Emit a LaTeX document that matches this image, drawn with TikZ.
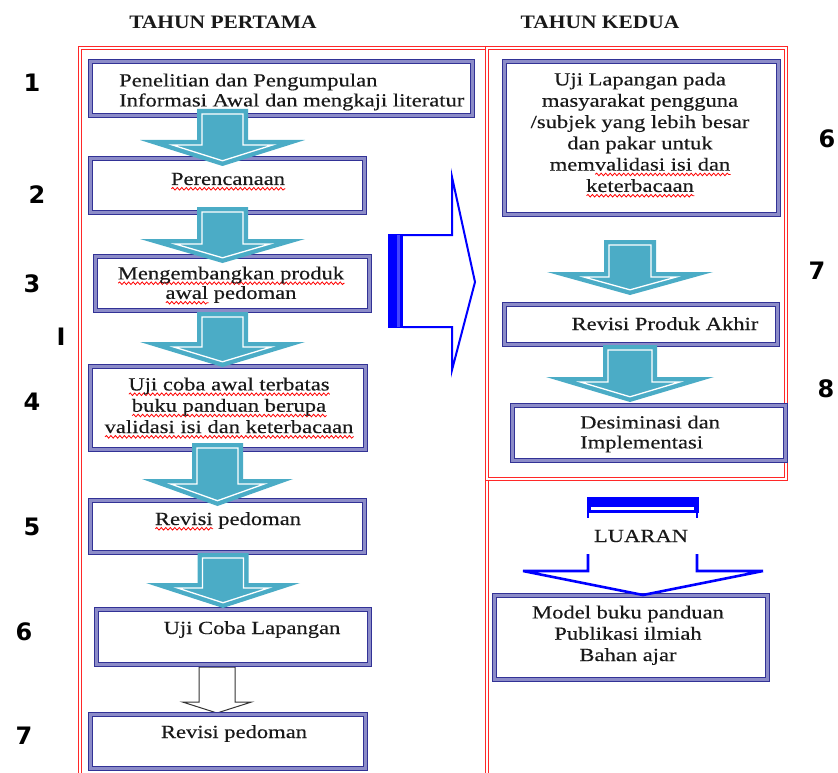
\documentclass[tikz,border=0pt]{standalone}
\usepackage{fontspec}
\setmainfont{Liberation Serif}[FakeStretch=1.22, FakeBold=0.35]
\newfontfamily\headfont{Liberation Serif}[FakeStretch=1.13]
\newfontfamily\numfont{DejaVu Sans}
\usetikzlibrary{decorations.pathmorphing}
\newsavebox\sqbox
\newcommand\sq[1]{\sbox\sqbox{#1}\edef\sqw{\the\wd\sqbox}\rlap{\tikz[baseline=0pt,x=1pt,y=1pt]\draw[red, line width=0.8pt, decorate, decoration={snake, amplitude=1.3pt, segment length=4.5pt}] (0,-3.8) -- (\sqw,-3.8);}\usebox\sqbox}
\definecolor{boxdark}{RGB}{50,50,150}
\definecolor{boxlight}{RGB}{140,140,200}
\definecolor{tealc}{RGB}{75,172,198}
\definecolor{bluec}{RGB}{0,0,255}
\definecolor{bluelt}{RGB}{70,70,255}
\definecolor{redc}{RGB}{255,40,40}
\definecolor{txt}{RGB}{25,25,25}
\newcommand\tarrow[6]{%
  \fill[tealc] (#1-#5,#2) -- (#1+#5,#2) -- (#1+#5,#3) -- (#1+#6,#3) -- (#1,#4) -- (#1-#6,#3) -- (#1-#5,#3) -- cycle;
  \pgfmathsetmacro\Lh{#4-#3}%
  \pgfmathsetmacro\vv{5*sqrt(1+(\Lh/#6)^2)}%
  \pgfmathsetmacro\ih{#6*(\Lh-5-\vv)/\Lh}%
  \draw[white, line width=1.3pt, line join=miter] (#1-#5+5,#2+5) -- (#1+#5-5,#2+5) -- (#1+#5-5,#3+5) -- (#1+\ih,#3+5) -- (#1,#4-\vv) -- (#1-\ih,#3+5) -- (#1-#5+5,#3+5) -- cycle;
}
\begin{document}
\begin{tikzpicture}[x=1pt,y=-1pt,
  frame/.style={draw=redc, double=white, double distance=1.6pt, line width=1.4pt},
  box/.style={draw=boxdark, double=boxlight, double distance=3pt, line width=0.9pt, fill=white, inner sep=0pt},
  body/.style={font=\fontsize{18.5}{21.3}\selectfont, text=txt, inner sep=0pt},
  head/.style={font=\headfont\bfseries\fontsize{19}{19}\selectfont, text=txt, inner sep=0pt},
  num/.style={font=\numfont\bfseries\fontsize{24}{24}\selectfont, text=black, inner sep=0pt},
  bluel/.style={draw=bluec, line width=2.6pt, line join=miter}
]
\useasboundingbox (0,0) rectangle (838,773);
\clip (0,0) rectangle (838,773);

% frames
\draw[frame] (80,48) rectangle (487,790);
\draw[frame] (487,48) rectangle (786,479);

% headings
\node[head, anchor=base] (h1) at (223,29) {TAHUN PERTAMA};
\node[head, anchor=base] (h2) at (600,29) {TAHUN KEDUA};

% white arrow between 6 and 7
\draw[black!80, line width=1pt, fill=white] (199,667) -- (235,667) -- (235,702) -- (251.5,702) -- (217,713) -- (182.5,702) -- (199,702) -- cycle;

% boxes (left)
\node[box, minimum width=382, minimum height=54] (b1) at (281.5,88.5) {};
\node[box, minimum width=274, minimum height=54] (b2) at (227.5,185.5) {};
\node[box, minimum width=274, minimum height=54] (b3) at (232.5,283.5) {};
\node[box, minimum width=275, minimum height=83] (b4) at (228,408) {};
\node[box, minimum width=274, minimum height=52] (b5) at (227.5,526.5) {};
\node[box, minimum width=273, minimum height=55] (b6) at (233,637) {};
\node[box, minimum width=275, minimum height=54] (b7) at (228,741.5) {};
% boxes (right)
\node[box, minimum width=274, minimum height=153] (r1) at (641.5,138) {};
\node[box, minimum width=273, minimum height=40] (r2) at (641,324.5) {};
\node[box, minimum width=273, minimum height=55] (r3) at (649,433) {};
\node[box, minimum width=273, minimum height=84] (r4) at (631,637.5) {};

% teal arrows
\tarrow{222.5}{109}{140}{166}{25.5}{82.5}
\tarrow{222.5}{207}{239}{263}{25.5}{82.5}
\tarrow{222.5}{312}{342}{367}{25.5}{82.5}
\tarrow{217.5}{443}{479}{506}{25.5}{75.5}
\tarrow{223}{553}{583}{608}{25.5}{77}
\tarrow{630}{240}{272}{295}{26}{83}
\tarrow{630}{345}{377}{402}{27}{84}

% big blue right arrow
\draw[bluec, line width=2pt, line join=miter] (403,235) -- (452,235) -- (452,177) -- (475,282) -- (452,370) -- (452,327) -- (403,327);
\fill[bluec] (388,234) rectangle (403,328);
\draw[bluelt, line width=2.5pt] (398.5,235) -- (398.5,327);

% LUARAN arrow
\fill[bluec] (586.5,497) rectangle (698.5,513);
\draw[white, line width=2.5pt] (591,508.5) -- (694,508.5);
\draw[bluel] (588,512) -- (588,518);
\draw[bluel] (697,512) -- (697,518);
\draw[bluel] (588,554) -- (588,571) -- (523,571) -- (643,595) -- (763,571) -- (697,571) -- (697,554);
\node[body, anchor=base] (lu) at (641,542) {LUARAN};

% texts
\node[body, anchor=north west, align=left, font=\fontsize{18.5}{20}\selectfont] (t1) at (119,73.4) {Penelitian dan Pengumpulan\\Informasi Awal dan mengkaji literatur};
\node[body, anchor=base] (t2) at (228,185) {\sq{Perencanaan}};
\node[body, anchor=north, align=center, font=\fontsize{18.5}{19.5}\selectfont] (t3) at (231,266.4) {\sq{Mengembangkan produk}\\\sq{awal} pedoman};
\node[body, anchor=north, align=center] (t4) at (229,377.4) {\sq{Uji coba awal terbatas}\\\sq{buku panduan berupa}\\\sq{validasi isi dan keterbacaan}};
\node[body, anchor=base] (t5) at (228,525) {\sq{Revisi} pedoman};
\node[body, anchor=base] (t6) at (252,634) {Uji Coba Lapangan};
\node[body, anchor=base] (t7) at (234,738) {Revisi pedoman};
\node[body, anchor=north, align=center] (tr1) at (640,72.4) {Uji Lapangan pada\\masyarakat pengguna\\/subjek yang lebih besar\\dan pakar untuk\\mem\sq{validasi isi dan}\\\sq{keterbacaan}};
\node[body, anchor=base] (tr2) at (665,330) {Revisi Produk Akhir};
\node[body, anchor=north west, align=left, font=\fontsize{18.5}{20}\selectfont] (tr3) at (580,415.4) {Desiminasi dan\\Implementasi};
\node[body, anchor=north, align=center] (tr4) at (628,605.4) {Model buku panduan\\Publikasi ilmiah\\Bahan ajar};

% numbers
\node[num] (n1) at (32,83) {1};
\node[num] (n2) at (37,195) {2};
\node[num] (n3) at (32,284) {3};
\node[num] (nI) at (61,337) {I};
\node[num] (n4) at (32,402) {4};
\node[num] (n5) at (32,527) {5};
\node[num] (n6) at (24,632) {6};
\node[num] (n7) at (24,736) {7};
\node[num] (m6) at (827,139) {6};
\node[num] (m7) at (817,271) {7};
\node[num] (m8) at (826,389) {8};
\end{tikzpicture}
\end{document}
